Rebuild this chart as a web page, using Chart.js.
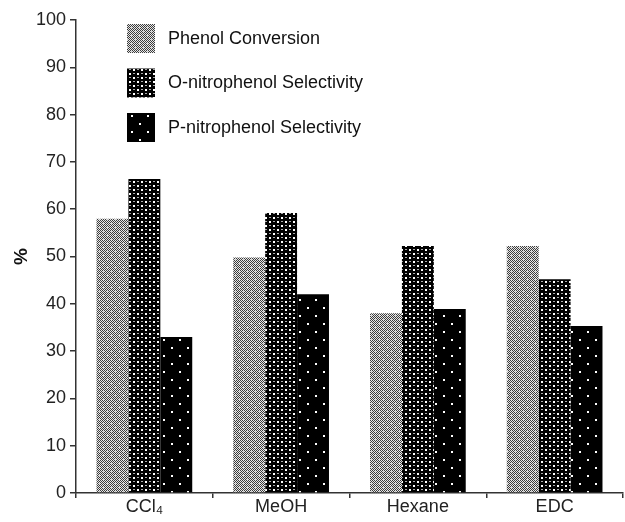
<!DOCTYPE html>
<html>
<head>
<meta charset="utf-8">
<script src="https://cdn.jsdelivr.net/npm/chart.js@4/dist/chart.umd.min.js"></script>
<style>
  html, body { margin: 0; padding: 0; background: #fff; }
  #myChart { display: block; }
</style>
</head>
<body>
<canvas id="myChart" width="625" height="522"></canvas>
<script>
// chart data
const categories = ['CCl\u2084', 'MeOH', 'Hexane', 'EDC'];
const seriesNames = ['Phenol Conversion', 'O-nitrophenol Selectivity', 'P-nitrophenol Selectivity'];
const phenolConversion = [58, 49.8, 38, 52.2];
const oSelectivity = [66.4, 59.2, 52.2, 45.2];
const pSelectivity = [33, 42, 38.9, 35.3];
const yTicks = [0, 10, 20, 30, 40, 50, 60, 70, 80, 90, 100];

const FONT = 'Arial, "Liberation Sans", sans-serif';

// small canvas tiles used as bar fills
function makePattern(size, draw) {
    const c = document.createElement('canvas');
    c.width = size;
    c.height = size;
    const g = c.getContext('2d');
    draw(g, size);
    return document.getElementById('myChart').getContext('2d').createPattern(c, 'repeat');
}

const grayFill = makePattern(8, (g, s) => {
    g.fillStyle = '#e8e8e8';
    g.fillRect(0, 0, s, s);
    g.fillStyle = '#3c3c3c';
    for (let y = 0; y < s; y++) {
        for (let x = 0; x < s; x++) {
            if ((x + y) % 2 === 0) g.fillRect(x, y, 1, 1);
        }
    }
    g.fillStyle = '#bbb';
    g.fillRect(3, 3, 1, 1);
    g.fillRect(7, 7, 1, 1);
});

const denseDots = makePattern(8, (g, s) => {
    g.fillStyle = '#000';
    g.fillRect(0, 0, s, s);
    g.fillStyle = '#fff';
    g.fillRect(1, 1, 2, 2);
    g.fillRect(5, 5, 2, 2);
    g.fillStyle = '#aaa';
    g.fillRect(5, 1, 2, 1);
    g.fillRect(1, 5, 2, 1);
});

const sparseDots = makePattern(16, (g, s) => {
    g.fillStyle = '#000';
    g.fillRect(0, 0, s, s);
    g.fillStyle = '#fff';
    g.fillRect(3, 3, 2, 2);
    g.fillRect(11, 11, 2, 2);
});

const fills = [grayFill, denseDots, sparseDots];
const values = [phenolConversion, oSelectivity, pSelectivity];

// legend drawn inside the plot, stacked
const boxLegend = {
    id: 'boxLegend',
    afterDraw(chart) {
        const ctx = chart.ctx;
        ctx.save();
        ctx.font = '18px ' + FONT;
        ctx.textBaseline = 'middle';
        chart.data.datasets.forEach((ds, i) => {
            const cy = 38 + i * 44.5;
            ctx.fillStyle = ds.backgroundColor;
            ctx.fillRect(127, cy - 14, 28, 29);
            ctx.fillStyle = '#111';
            ctx.fillText(ds.label, 168, cy + 1);
        });
        ctx.restore();
    }
};

const ctx = document.getElementById('myChart').getContext('2d');
new Chart(ctx, {
    type: 'bar',
    data: {
        labels: categories,
        datasets: seriesNames.map((name, i) => ({
            label: name,
            data: values[i],
            backgroundColor: fills[i],
            borderWidth: 0,
            categoryPercentage: 0.7,
            barPercentage: 1.0
        }))
    },
    options: {
        responsive: false,
        animation: false,
        layout: { padding: { top: 20, right: 2, bottom: 0, left: 0 } },
        scales: {
            x: {
                afterFit: (s) => { s.height = 29; },
                border: { display: true, color: '#333', width: 1.5 },
                grid: { display: true, drawOnChartArea: false, color: '#333', lineWidth: 1.5, tickLength: 5, offset: true },
                ticks: { color: '#222', font: { family: FONT, size: 18 }, padding: -2, maxRotation: 0 }
            },
            y: {
                min: 0,
                max: 100,
                afterFit: (s) => { s.width = 76; },
                afterBuildTicks: (s) => { s.ticks = yTicks.map(v => ({ value: v })); },
                border: { display: true, color: '#333', width: 1.5 },
                grid: { display: true, drawOnChartArea: false, color: '#333', lineWidth: 1.5, tickLength: 6 },
                ticks: { color: '#222', font: { family: FONT, size: 18 }, padding: 4 },
                title: {
                    display: true,
                    text: '%',
                    color: '#111',
                    font: { family: FONT, size: 19, weight: 'bold' },
                    padding: { top: 10, bottom: 0 }
                }
            }
        },
        plugins: {
            legend: { display: false },
            tooltip: { enabled: false }
        }
    },
    plugins: [boxLegend]
});
</script>
</body>
</html>
